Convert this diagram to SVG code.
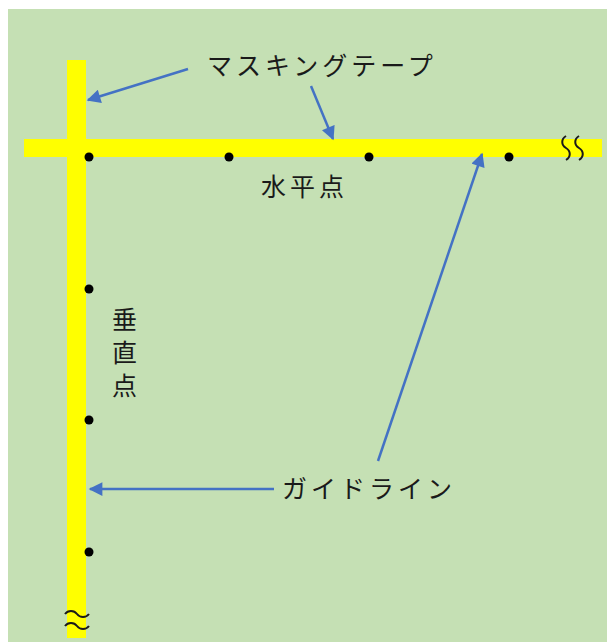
<svg xmlns="http://www.w3.org/2000/svg" width="607" height="642" viewBox="0 0 607 642">
<style>
.tape{fill:#FFFF00}
.dot{fill:#000}
.lbl{font-family:"Noto Sans CJK JP","Noto Sans CJK SC",sans-serif;font-size:25px;fill:#1a1a1a;letter-spacing:4px}
.conn{stroke:#4472C4;stroke-width:2.5;fill:none;marker-end:url(#ah)}
.wave{stroke:#1a1a1a;stroke-width:2;fill:none}
</style>
<defs>
<marker id="ah" viewBox="0 0 10 10" refX="9" refY="5" markerWidth="6" markerHeight="5.5" orient="auto" markerUnits="strokeWidth">
<path d="M0,0 L10,5 L0,10 Z" fill="#4472C4"/>
</marker>
</defs>
<rect x="0" y="0" width="607" height="642" fill="#FFFFFF"/>
<rect x="8" y="9" width="599" height="633" fill="#C5E0B4"/>
<g id="tape-horizontal"><rect class="tape" x="24" y="139" width="578" height="18"/></g>
<g id="tape-vertical"><rect class="tape" x="67" y="60" width="19" height="578"/></g>
<g id="horizontal-points">
<circle class="dot" cx="89" cy="157" r="4.5"/>
<circle class="dot" cx="229" cy="157" r="4.5"/>
<circle class="dot" cx="369" cy="157" r="4.5"/>
<circle class="dot" cx="509" cy="157" r="4.5"/>
</g>
<g id="vertical-points">
<circle class="dot" cx="89" cy="289" r="4.5"/>
<circle class="dot" cx="89" cy="420" r="4.5"/>
<circle class="dot" cx="89" cy="552" r="4.5"/>
</g>
<g id="break-right">
<path class="wave" d="M566,136 c-5,3 -5,9 0,12 s5,9 0,12"/>
<path class="wave" d="M579,136 c-5,3 -5,9 0,12 s5,9 0,12"/>
</g>
<g id="break-bottom">
<path class="wave" d="M65,614 c3,-4 9,-4 12,0 s9,4 12,0"/>
<path class="wave" d="M65,626 c3,-4 9,-4 12,0 s9,4 12,0"/>
</g>
<g id="label-masking"><text class="lbl" x="207" y="75">マスキングテープ</text></g>
<g id="label-horizontal"><text class="lbl" x="261" y="196">水平点</text></g>
<g id="label-vertical">
<text class="lbl" x="112" y="329">垂</text>
<text class="lbl" x="112" y="362">直</text>
<text class="lbl" x="112" y="395">点</text>
</g>
<g id="label-guide"><text class="lbl" x="282" y="498">ガイドライン</text></g>
<g id="connectors">
<line class="conn" x1="188" y1="69" x2="88" y2="100"/>
<line class="conn" x1="311" y1="86" x2="333" y2="139"/>
<line class="conn" x1="378" y1="461" x2="482" y2="154"/>
<line class="conn" x1="274" y1="489" x2="90" y2="489"/>
</g>
</svg>
